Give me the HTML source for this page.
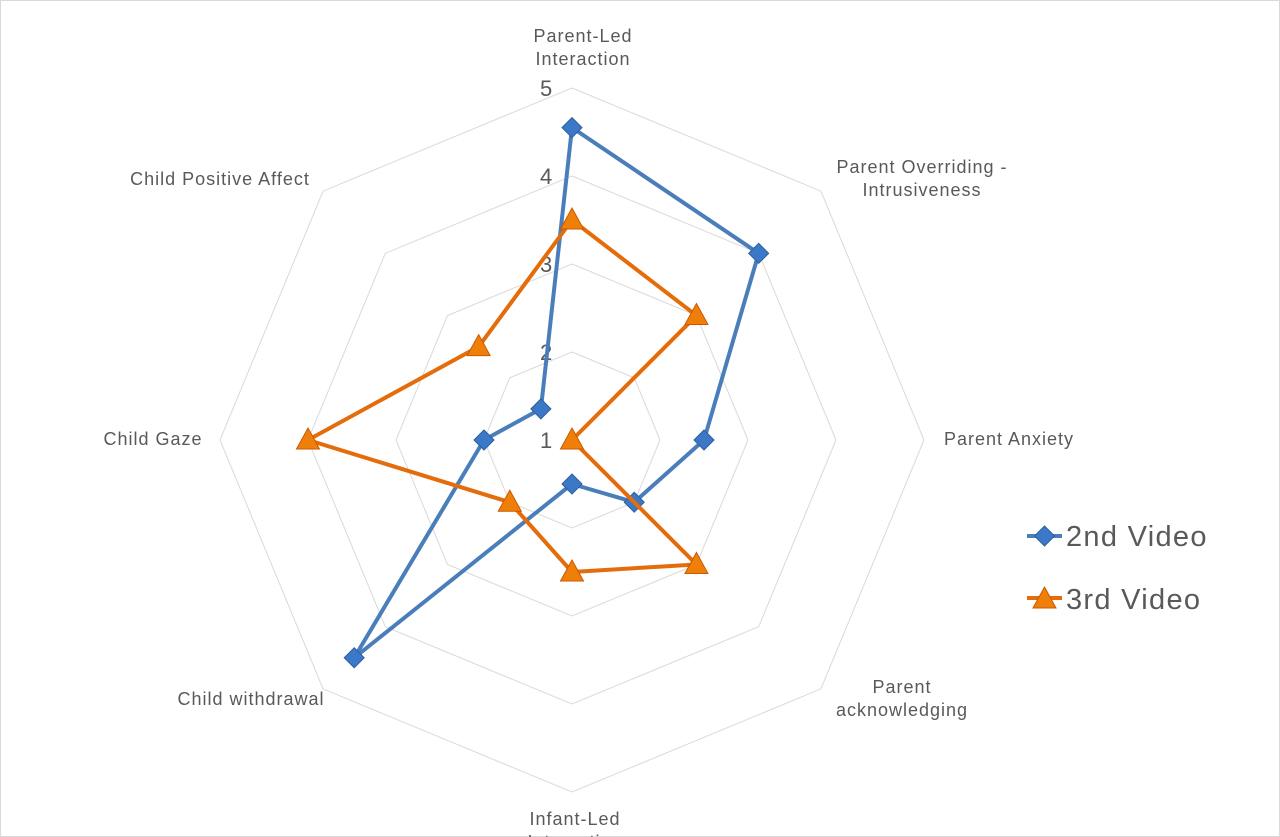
<!DOCTYPE html>
<html><head><meta charset="utf-8"><style>
body{margin:0;background:#fff}
svg{display:block;font-family:"Liberation Sans",sans-serif}
</style></head><body>
<svg id="chart" width="1280" height="837">
<rect x="0.5" y="0.5" width="1279" height="836" fill="#fff" stroke="#d9d9d9"/>
<g id="grid"></g><g id="labels"></g><g id="series"></g>
<g>
<g>
<line x1="1027" y1="536" x2="1062" y2="536" stroke="#4A7EBB" stroke-width="4"/>
<path d="M1044.5 526 L1054.5 536 L1044.5 546 L1034.5 536Z" fill="#3C78C8" stroke="#2f5f9f"/>
<text x="1066" y="546" font-size="29" letter-spacing="1.3" fill="#595959">2nd Video</text></g>
<g>
<line x1="1027" y1="598" x2="1062" y2="598" stroke="#E46C0A" stroke-width="4"/>
<path d="M1044.5 587 L1056 608 L1033 608Z" fill="#F07F09" stroke="#c85a00"/>
<text x="1066" y="609" font-size="29" letter-spacing="1.3" fill="#595959">3rd Video</text></g>
</g>
</svg>
<script>
const categories=["Parent-Led Interaction","Parent Overriding - Intrusiveness","Parent Anxiety","Parent acknowledging","Infant-Led Interaction","Child withdrawal","Child Gaze","Child Positive Affect"];
const video2=[4.55,4.0,2.5,2.0,1.5,4.5,2.0,1.5];
const video3=[3.5,3.0,1.0,3.0,2.5,2.0,4.0,2.5];
const ticks=[1,2,3,4,5];
const cx=572,cy=440,unit=88,vmin=1;
const NS="http://www.w3.org/2000/svg";
function r(v){return (v-vmin)*unit;}
function pt(i,v){const a=-Math.PI/2+i*2*Math.PI/categories.length;return [cx+r(v)*Math.cos(a),cy+r(v)*Math.sin(a)];}
function mk(t,at,parent){const e=document.createElementNS(NS,t);for(const k in at)e.setAttribute(k,at[k]);document.getElementById(parent).appendChild(e);return e;}
ticks.forEach(t=>{if(t===vmin)return;
 const p=categories.map((c,i)=>pt(i,t).join(",")).join(" ");
 const g=mk("polygon",{points:p,fill:"none",stroke:"#d9d9d9","stroke-width":1},"grid");
 
 });
ticks.forEach(t=>{const e=mk("text",{x:cx-32,y:cy-r(t)+8,"font-size":22,fill:"#595959"},"labels");e.textContent=t;
 
 });
const labelPos=[[583,42,["Parent-Led","Interaction"]],[922,173,["Parent Overriding -","Intrusiveness"]],[1009,445,["Parent Anxiety"]],[902,693,["Parent","acknowledging"]],[575,825,["Infant-Led","Interaction"]],[251,705,["Child withdrawal"]],[153,445,["Child Gaze"]],[220,185,["Child Positive Affect"]]];
labelPos.forEach(([x,y,lines])=>{const e=mk("text",{x:x,y:y,"font-size":18,"letter-spacing":1,fill:"#595959","text-anchor":"middle"},"labels");
 
 
 lines.forEach((l,k)=>{const s=document.createElementNS(NS,"tspan");s.setAttribute("x",x);s.setAttribute("dy",k?23:0);s.textContent=l;e.appendChild(s);});});
function series(vals,color,mcol,stroke,shape,name){
 const pts=vals.map((v,i)=>pt(i,v));
 const pl=mk("polygon",{points:pts.map(p=>p.join(",")).join(" "),fill:"none",stroke:color,"stroke-width":4,"stroke-linejoin":"round"},"series");
 
 
 pts.forEach(([x,y])=>{let d=shape==="d"?`M${x} ${y-10}L${x+10} ${y}L${x} ${y+10}L${x-10} ${y}Z`:`M${x} ${y-12}L${x+11.5} ${y+9}L${x-11.5} ${y+9}Z`;
  const m=mk("path",{d:d,fill:mcol,stroke:stroke,"stroke-width":1},"series");
  
  });
}
series(video2,"#4A7EBB","#3C78C8","#2f5f9f","d","video2");
series(video3,"#E46C0A","#F07F09","#c85a00","t","video3");
</script>
</body></html>
